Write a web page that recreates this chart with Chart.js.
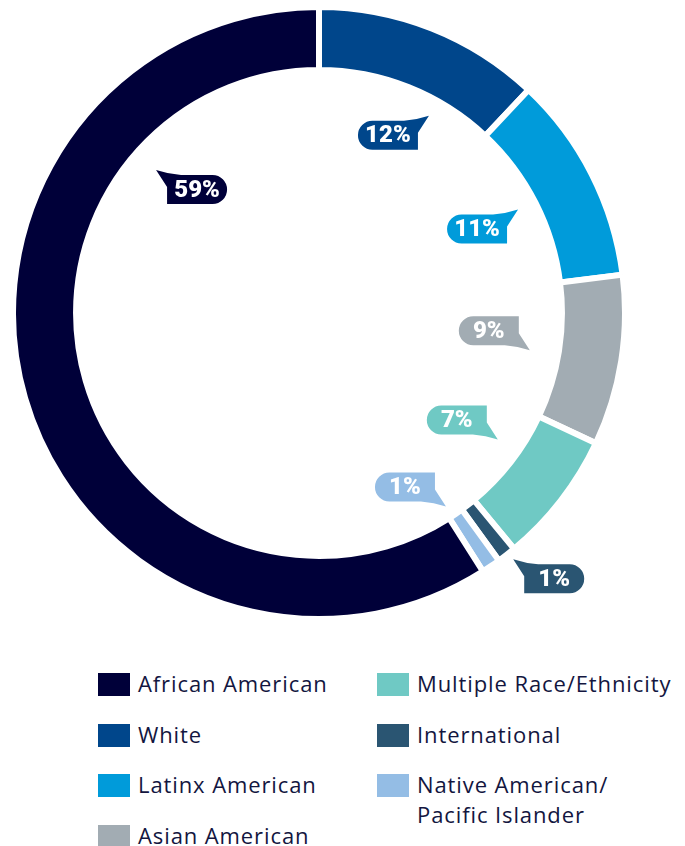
<!DOCTYPE html>
<html>
<head>
<meta charset="utf-8">
<script src="https://cdn.jsdelivr.net/npm/chart.js@4/dist/chart.umd.min.js"></script>
<style>
  html, body { margin: 0; padding: 0; background: #ffffff; }
  body { width: 685px; height: 846px; position: relative; overflow: hidden; font-family: "Open Sans", Lato, sans-serif; }
  #wrap { position: absolute; left: 10px; top: 4px; width: 618px; height: 618px; }
  .legend { position: absolute; top: 670px; color: #13163f; font-size: 22px; letter-spacing: 0.9px; }
  .legend .item { position: relative; height: 50.5px; }
  .legend .sw { position: absolute; left: 0; top: 3px; width: 32px; height: 23px; }
  .legend .tx { position: absolute; left: 40px; top: -2px; line-height: 30px; white-space: nowrap; }
</style>
</head>
<body>
<div id="wrap"><canvas id="c"></canvas></div>
<div class="legend" id="legL" style="left:98px"></div>
<div class="legend" id="legR" style="left:377px"></div>
<script>
// ---- data ----
const categories = ["White", "Latinx American", "Asian American", "Multiple Race/Ethnicity", "International", "Native American/Pacific Islander", "African American"];
const values = [12, 11, 9, 7, 1, 1, 59];
const colors = ["#00468b", "#009bda", "#a2acb3", "#6fc9c4", "#2a5572", "#94bde5", "#000039"];

// ---- legend layout (order as shown) ----
const legendLeft = ["African American", "White", "Latinx American", "Asian American"];
const legendRight = ["Multiple Race/Ethnicity", "International", "Native American/\nPacific Islander"];

// ---- bubble label layout (polar, relative to the doughnut) ----
const bubbleAngle = [21.2, 62.0, 96.0, 127.8, 138.5, 153.7, 315.35];
const bubbleRadius = [0.623, 0.585, 0.558, 0.57, 1.16, 0.634, 0.567];
const bubbleTail = ["tr", "tr", "br", "br", "tl", "br", "tl"];

function buildLegend(el, names) {
  names.forEach(n => {
    const key = n.replace("\n", "");
    const idx = categories.indexOf(key);
    const it = document.createElement("div");
    it.className = "item";
    const sw = document.createElement("div");
    sw.className = "sw";
    sw.style.background = colors[idx];
    const tx = document.createElement("div");
    tx.className = "tx";
    tx.innerHTML = n.split("\n").join("<br>");
    it.appendChild(sw); it.appendChild(tx);
    el.appendChild(it);
  });
}
buildLegend(document.getElementById("legL"), legendLeft);
buildLegend(document.getElementById("legR"), legendRight);

function bubblePath(ctx, cx, cy, tail) {
  const w = 60, h = 29, r = h / 2;
  ctx.save();
  ctx.translate(cx, cy);
  let sx = 1, sy = 1;
  if (tail === "br") sy = -1;
  if (tail === "tl") sx = -1;
  ctx.scale(sx, sy);
  const L = -w / 2, R = w / 2, T = -h / 2, B = h / 2;
  ctx.beginPath();
  ctx.moveTo(L + r, T);
  ctx.lineTo(R - 14, T);
  ctx.quadraticCurveTo(R - 1, T - 1, R + 11, T - 5);
  ctx.lineTo(R, T + 12);
  ctx.lineTo(R, B);
  ctx.lineTo(L + r, B);
  ctx.arc(L + r, 0, r, Math.PI / 2, Math.PI * 1.5);
  ctx.closePath();
  ctx.fill();
  ctx.restore();
}

const bubblePlugin = {
  id: "bubbles",
  afterDatasetsDraw(chart) {
    const ctx = chart.ctx;
    const meta = chart.getDatasetMeta(0);
    meta.data.forEach((arc, i) => {
      const R = arc.outerRadius;
      const a = bubbleAngle[i] * Math.PI / 180;
      const cx = arc.x + bubbleRadius[i] * R * Math.sin(a);
      const cy = arc.y - bubbleRadius[i] * R * Math.cos(a);
      ctx.fillStyle = colors[i];
      bubblePath(ctx, cx, cy, bubbleTail[i]);
      ctx.fillStyle = "#ffffff";
      ctx.font = "900 24px Roboto";
      ctx.textAlign = "center";
      ctx.textBaseline = "middle";
      ctx.fillText(values[i] + "%", cx, cy + 1);
    });
  }
};

new Chart(document.getElementById("c"), {
  type: "doughnut",
  data: {
    labels: categories,
    datasets: [{
      data: values,
      backgroundColor: colors,
      borderColor: "#ffffff",
      borderWidth: 6,
      borderJoinStyle: "miter",
      borderAlign: "center"
    }]
  },
  options: {
    responsive: true,
    maintainAspectRatio: false,
    animation: false,
    cutout: "79.4%",
    rotation: 0,
    layout: { padding: 0 },
    plugins: { legend: { display: false }, tooltip: { enabled: false } }
  },
  plugins: [bubblePlugin]
});
</script>
</body>
</html>
